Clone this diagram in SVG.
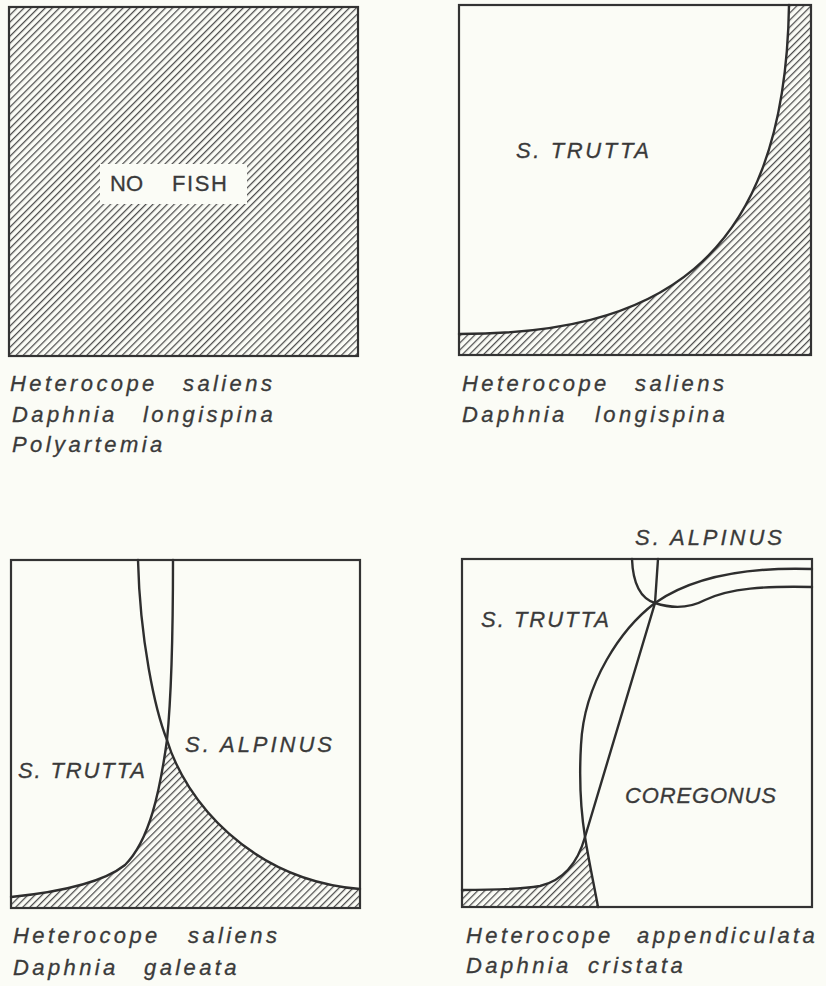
<svg xmlns="http://www.w3.org/2000/svg" width="826" height="986" viewBox="0 0 826 986">
<defs>
<pattern id="hatch" patternUnits="userSpaceOnUse" width="40" height="5" patternTransform="rotate(-45)">
<line x1="0" y1="2.5" x2="40" y2="2.5" stroke="#4d4d4d" stroke-width="1.25"/>
</pattern>
<style>
.box{fill:none;stroke:#333;stroke-width:2.2}
.curve{fill:none;stroke:#2e2e2e;stroke-width:2.4;stroke-linecap:round}
.hatch{fill:url(#hatch);stroke:none}
.cap{font-family:"Liberation Sans",Arial,sans-serif;font-style:italic;font-size:22px;fill:#3a3a3a;stroke:#3a3a3a;stroke-width:0.3;letter-spacing:3.4px}
.lab{font-family:"Liberation Sans",Arial,sans-serif;font-style:italic;font-size:22px;fill:#3a3a3a;stroke:#3a3a3a;stroke-width:0.3}
.nf{font-family:"Liberation Sans",Arial,sans-serif;font-size:22px;fill:#3a3a3a;stroke:#3a3a3a;stroke-width:0.3}
</style>
</defs>
<rect x="0" y="0" width="826" height="986" fill="#fbfcf6"/>

<g id="panel-no-fish">
<rect class="hatch" x="9" y="7" width="349" height="349"/>
<rect x="100" y="164" width="147" height="40" fill="#fbfcf6"/>
<rect class="box" x="9" y="7" width="349" height="349"/>
<text class="nf"><tspan x="110" y="191">NO</tspan><tspan x="172" y="191" textLength="55" lengthAdjust="spacing">FISH</tspan></text>
<text class="cap"><tspan x="10" y="391">Heterocope</tspan><tspan x="183" y="391">saliens</tspan></text>
<text class="cap"><tspan x="12" y="422">Daphnia</tspan><tspan x="143" y="422">longispina</tspan></text>
<text class="cap" x="12" y="452">Polyartemia</text>
</g>

<g id="panel-trutta">
<path class="hatch" d="M459,334 C650,334 785,270 789,5 L811,5 L811,355 L459,355 Z"/>
<rect class="box" x="459" y="5" width="352" height="350"/>
<text class="lab" x="516" y="158" textLength="133" lengthAdjust="spacing">S. TRUTTA</text>
<text class="cap"><tspan x="462" y="391">Heterocope</tspan><tspan x="635" y="391">saliens</tspan></text>
<text class="cap"><tspan x="462" y="422">Daphnia</tspan><tspan x="595" y="422">longispina</tspan></text>
</g>

<g id="panel-trutta-alpinus">
<path class="hatch" d="M11,897 C50,893 100,885 125,865 C150,840 160,790 167,740 C185,800 250,880 360,889 L360,908 L11,908 Z"/>
<rect class="box" x="11" y="560" width="349" height="348"/>
<text class="lab" x="18" y="778" textLength="127" lengthAdjust="spacing">S. TRUTTA</text>
<text class="lab" x="185" y="752" textLength="147" lengthAdjust="spacing">S. ALPINUS</text>
<text class="cap"><tspan x="13" y="943">Heterocope</tspan><tspan x="188" y="943">saliens</tspan></text>
<text class="cap"><tspan x="13" y="975">Daphnia</tspan><tspan x="144" y="975">galeata</tspan></text>
</g>

<g id="panel-four">
<path class="hatch" d="M462,890 C480,890 515,890 540,886 C565,880 578,862 585,837 C589,862 594,885 598,907 L462,907 Z"/>
<rect class="box" x="462" y="559" width="350" height="348"/>
<text class="lab" x="635" y="545" textLength="147" lengthAdjust="spacing">S. ALPINUS</text>
<text class="lab" x="481" y="627" textLength="128" lengthAdjust="spacing">S. TRUTTA</text>
<text class="lab" x="625" y="803" textLength="151" lengthAdjust="spacing">COREGONUS</text>
<text class="cap"><tspan x="466" y="943">Heterocope</tspan><tspan x="637" y="943">appendiculata</tspan></text>
<text class="cap"><tspan x="466" y="973">Daphnia</tspan><tspan x="588" y="973">cristata</tspan></text>
</g>

<g id="boundaries">
<path class="curve" d="M459,334 C650,334 785,270 789,5"/>
<path class="curve" d="M138,560 C140,640 155,710 167,740 C185,800 250,880 360,889"/>
<path class="curve" d="M173,560 C173,640 171,700 167,740 C160,790 150,840 125,865 C100,885 50,893 11,897"/>
<path class="curve" d="M812,569 C750,567 695,575 655,603 C622,628 584,682 581,745 C579,780 581,812 585,837 C589,862 594,885 598,907"/>
<path class="curve" d="M658,559 L655,603 L585,837 C578,862 565,880 540,886 C515,890 480,890 462,890"/>
<path class="curve" d="M632,559 C633,585 642,599 655,603 C670,608 688,609 705,600 C730,588 765,586 812,587"/>
</g>
</svg>
